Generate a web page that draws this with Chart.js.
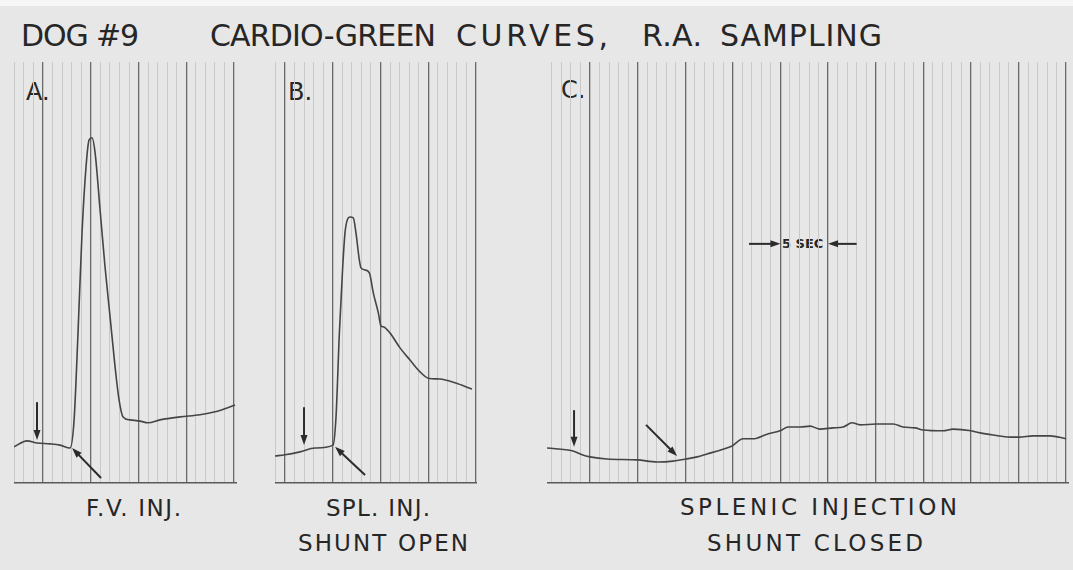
<!DOCTYPE html>
<html>
<head>
<meta charset="utf-8">
<script src="https://cdn.jsdelivr.net/npm/chart.js@4.4.1/dist/chart.umd.min.js"></script>
<style>
  html, body { margin: 0; padding: 0; }
  body { width: 1073px; height: 570px; background: #e7e7e7; position: relative; overflow: hidden;
         font-family: "DejaVu Sans", sans-serif; color: #262626; }
  .strip { position: absolute; left: 0; top: 0; width: 1073px; height: 6px; background: #f6f6f6; }
  .txt { position: absolute; white-space: nowrap; line-height: 1; }
  .title { font-size: 30px; }
  .pid { font-size: 24px; }
  .cap { font-size: 23px; }
  .sec { font-size: 13px; font-weight: bold; }
  canvas { position: absolute; }
</style>
</head>
<body>
<div class="strip"></div>

<div class="txt title" data-w="118" style="left:21px; top:21px;">DOG #9</div>
<div class="txt title" data-w="226" style="left:210px; top:21px;">CARDIO-GREEN</div>
<div class="txt title" data-w="152" style="left:456px; top:21px;">CURVES,</div>
<div class="txt title" data-w="60" style="left:642px; top:21px;">R.A.</div>
<div class="txt title" data-w="162" style="left:720px; top:21px;">SAMPLING</div>

<div class="txt pid" style="left:26px; top:80px;">A.</div>
<div class="txt pid" style="left:288px; top:80px;">B.</div>
<div class="txt pid" style="left:561px; top:78px;">C.</div>

<div class="txt sec" style="left:782px; top:237px;">5 SEC</div>

<div class="txt cap" data-w="95" style="left:86px; top:497px;">F.V. INJ.</div>
<div class="txt cap" data-w="104" style="left:326px; top:497px;">SPL. INJ.</div>
<div class="txt cap" data-w="170" style="left:298px; top:532px;">SHUNT OPEN</div>
<div class="txt cap" data-w="277" style="left:680px; top:496px;">SPLENIC INJECTION</div>
<div class="txt cap" data-w="216" style="left:707px; top:532px;">SHUNT CLOSED</div>

<canvas id="panelA"></canvas>
<canvas id="panelB"></canvas>
<canvas id="panelC"></canvas>

<script>
// time in seconds (1 heavy line = 5 sec), dye concentration in arbitrary deflection units
const timeA = [-3.04, -1.68, -0.63, 0.73, 1.78, 2.83, 3.25, 3.66, 4.08, 4.5, 4.82, 5.13, 5.45, 5.97, 6.49, 7.02, 7.54, 7.96, 8.38, 9.11, 10.16, 10.99, 12.25, 14.35, 16.44, 18.01, 20.1];
const concA = [8.6, 10.0, 9.5, 9.3, 9.0, 8.3, 15.0, 35.6, 59.4, 75.1, 81.5, 82.0, 78.4, 64.9, 51.3, 39.4, 27.6, 19.7, 15.7, 15.0, 14.7, 14.3, 15.0, 15.7, 16.2, 16.9, 18.5];

const timeB = [-1.05, 0, 1.57, 3.14, 5.03, 5.34, 5.69, 6.04, 6.28, 6.52, 6.81, 7.15, 7.43, 7.78, 7.96, 8.38, 8.83, 9.25, 9.77, 10.05, 10.29, 11.0, 12.04, 13.09, 14.14, 15.0, 16.23, 17.8, 19.58];
const concB = [6.4, 6.7, 7.4, 8.3, 9.0, 15.7, 35.6, 51.3, 59.4, 62.5, 63.2, 63.0, 59.4, 53.0, 51.1, 50.6, 49.9, 45.1, 40.4, 37.3, 37.1, 35.6, 32.1, 29.2, 26.4, 24.9, 24.7, 23.8, 22.3];

const timeC = [-4.52, -1.79, -0.84, 0, 1.79, 4.94, 7.04, 8.72, 10.08, 11.24, 12.29, 13.66, 14.92, 16.07, 17.12, 18.59, 19.96, 20.8, 22.06, 23.11, 24.16, 25.53, 26.58, 27.52, 28.36, 30.04, 31.83, 32.88, 34.14, 34.98, 37.08, 38.13, 40.02, 40.97, 42.33, 44.12, 45.06, 46.53, 48.32, 50.0];
const concC = [8.3, 7.6, 6.7, 6.2, 5.7, 5.5, 5.0, 5.2, 5.7, 6.2, 6.9, 7.8, 8.8, 10.5, 10.5, 11.6, 12.4, 13.3, 13.3, 13.5, 12.8, 13.1, 13.3, 14.3, 13.8, 14.0, 14.0, 13.3, 13.1, 12.6, 12.4, 12.8, 12.4, 11.9, 11.4, 10.9, 10.9, 11.2, 11.2, 10.5];

// arrows: [tailTime, tailConc, tipTime, tipConc]
const arrowsA = [[-0.63, 19.2, -0.63, 10.2], [6.07, 1.2, 3.04, 8.3]];
const arrowsB = [[1.99, 18.0, 1.99, 9.0], [8.38, 1.9, 5.24, 8.6]];
const arrowsC = [[-1.68, 17.3, -1.68, 8.6], [5.88, 13.8, 9.14, 6.4], [16.7, 56.8, 20, 56.8], [28.0, 56.8, 25, 56.8]];

const INK = '#2b2b2b';

function arrowPlugin(list) {
    return {
        id: 'arrows',
        afterDatasetsDraw(chart) {
            const ctx = chart.ctx, xs = chart.scales.x, ys = chart.scales.y;
            list.forEach(a => {
                const x1 = xs.getPixelForValue(a[0]), y1 = ys.getPixelForValue(a[1]);
                const x2 = xs.getPixelForValue(a[2]), y2 = ys.getPixelForValue(a[3]);
                const ang = Math.atan2(y2 - y1, x2 - x1);
                const c = Math.cos(ang), s = Math.sin(ang);
                ctx.save();
                ctx.strokeStyle = INK; ctx.fillStyle = INK; ctx.lineWidth = 2;
                ctx.beginPath();
                ctx.moveTo(x1, y1);
                ctx.lineTo(x2 - 6 * c, y2 - 6 * s);
                ctx.stroke();
                ctx.beginPath();
                ctx.moveTo(x2, y2);
                ctx.lineTo(x2 - 10 * c + 3.5 * s, y2 - 10 * s - 3.5 * c);
                ctx.lineTo(x2 - 10 * c - 3.5 * s, y2 - 10 * s + 3.5 * c);
                ctx.closePath();
                ctx.fill();
                ctx.restore();
            });
        }
    };
}

function makePanel(id, times, conc, xMin, xMax, arrows, box) {
    const cv = document.getElementById(id);
    cv.width = box.w; cv.height = box.h;
    cv.style.left = box.left + 'px'; cv.style.top = box.top + 'px';
    return new Chart(cv.getContext('2d'), {
        type: 'line',
        data: {
            datasets: [{
                data: times.map((t, i) => ({ x: t, y: conc[i] })),
                borderColor: '#454545',
                borderWidth: 1.6,
                pointRadius: 0,
                cubicInterpolationMode: 'monotone',
                fill: false
            }]
        },
        options: {
            responsive: false,
            animation: false,
            devicePixelRatio: 1,
            layout: { padding: { left: 0, right: 1, top: 0, bottom: 2 } },
            plugins: { legend: { display: false }, tooltip: { enabled: false } },
            scales: {
                x: {
                    type: 'linear', min: xMin, max: xMax,
                    ticks: { display: false, stepSize: 1, includeBounds: false },
                    grid: {
                        drawTicks: false,
                        color: c => (Math.round(c.tick.value) % 5 === 0 ? '#6a6a6a' : '#c9c9c9'),
                        lineWidth: c => (Math.round(c.tick.value) % 5 === 0 ? 1.3 : 1)
                    },
                    border: { display: true, color: '#5a5a5a', width: 1.5 }
                },
                y: { min: 0, max: 100, display: false }
            }
        },
        plugins: [arrowPlugin(arrows)]
    });
}

makePanel('panelA', timeA, concA, -3.04, 20.2, arrowsA, { left: 14, top: 62, w: 223, h: 423 });
makePanel('panelB', timeB, concB, -1.05, 20.0, arrowsB, { left: 275, top: 62, w: 202, h: 423 });
makePanel('panelC', timeC, concC, -4.52, 50.2, arrowsC, { left: 547, top: 62, w: 522, h: 423 });

// spread lettering to the widths of the original stencil text
document.querySelectorAll('.txt[data-w]').forEach(el => {
    const target = Number(el.dataset.w);
    const n = el.textContent.length;
    const natural = el.getBoundingClientRect().width;
    if (n > 1) el.style.letterSpacing = ((target - natural) / (n - 1)).toFixed(2) + 'px';
});
</script>
</body>
</html>
